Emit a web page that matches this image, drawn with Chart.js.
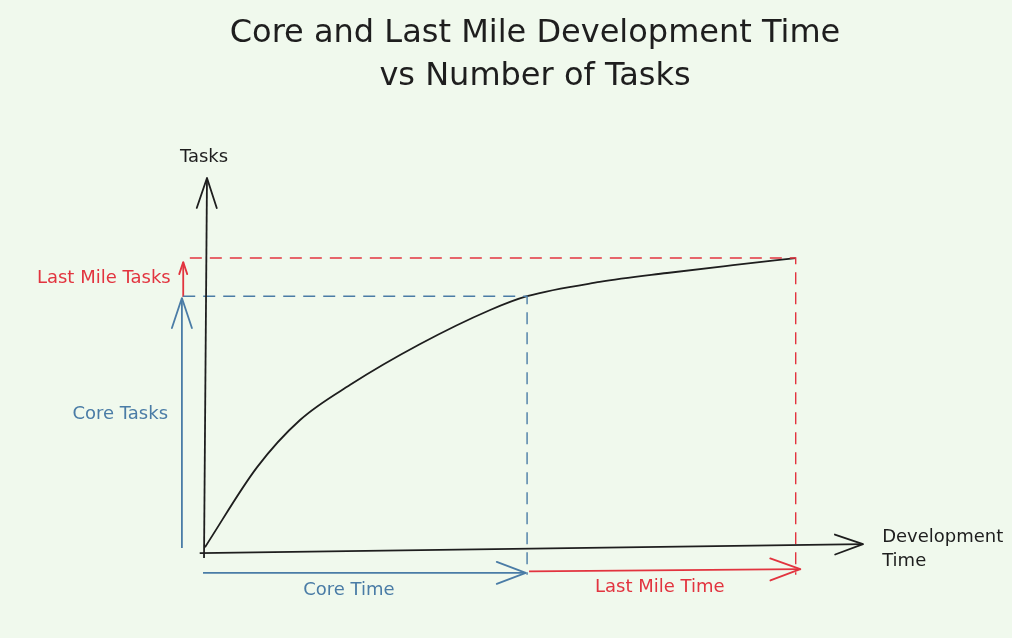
<!DOCTYPE html>
<html>
<head>
<meta charset="utf-8">
<script src="https://cdn.jsdelivr.net/npm/chart.js@4"></script>
<style>
  html, body { margin: 0; padding: 0; background: #f0f9ed; }
  #wrap { width: 1012px; height: 638px; position: relative; }
</style>
</head>
<body>
<div id="wrap"><canvas id="c"></canvas></div>
<script>
// ---- data ----
const titleLines = ['Core and Last Mile Development Time', 'vs Number of Tasks'];
const timeValues = [0, 7.9, 14.4, 22.0, 32.6, 43.2, 48.8, 59.8, 70.0, 80.0, 89.5];
const taskValues = [1.3, 22.7, 35.3, 44.7, 55.6, 64.7, 68.4, 72.2, 74.6, 76.7, 78.6];
const coreTime = 48.8;
const lastMileTime = 89.5;
const coreTasks = 68.4;
const totalTasks = 78.6;
const axisLabels = ['Tasks', 'Development', 'Time'];
const annotationLabels = ['Core Tasks', 'Last Mile Tasks', 'Core Time', 'Last Mile Time'];

const BLUE = '#4a7ca6';
const RED = '#e2343f';
const INK = '#1e1e1e';
const FONT = "'DejaVu Sans', sans-serif";

const curve = timeValues.map((t, i) => ({ x: t, y: taskValues[i] }));

const datasets = [
  { // y axis
    data: [{x: -0.15, y: -1.6}, {x: 0.3, y: 100}],
    borderColor: INK, borderWidth: 1.8, arrowHead: {len: 30, half: 10}
  },
  { // x axis
    data: [{x: -0.8, y: -0.3}, {x: 99.7, y: 2.1}],
    borderColor: INK, borderWidth: 1.8, arrowHead: {len: 28, half: 10}
  },
  { // core guide
    data: [{x: -3.3, y: coreTasks}, {x: coreTime, y: coreTasks}, {x: coreTime, y: -6.1}],
    borderColor: BLUE, borderWidth: 1.4, borderDash: [12, 8]
  },
  { // last mile guide
    data: [{x: -2.3, y: totalTasks}, {x: lastMileTime, y: totalTasks}, {x: lastMileTime, y: -6.1}],
    borderColor: RED, borderWidth: 1.4, borderDash: [12, 8]
  },
  { // core tasks arrow
    data: [{x: -3.5, y: 1.1}, {x: -3.5, y: coreTasks - 0.5}],
    borderColor: BLUE, borderWidth: 1.8, arrowHead: {len: 30, half: 10}
  },
  { // last mile tasks arrow
    data: [{x: -3.3, y: coreTasks - 0.2}, {x: -3.3, y: totalTasks - 1.1}],
    borderColor: RED, borderWidth: 1.8, arrowHead: {len: 12, half: 4}
  },
  { // core time arrow
    data: [{x: -0.3, y: -5.6}, {x: coreTime - 0.2, y: -5.6}],
    borderColor: BLUE, borderWidth: 1.8, arrowHead: {len: 29, half: 11}
  },
  { // last mile time arrow
    data: [{x: coreTime + 0.3, y: -5.2}, {x: lastMileTime + 0.7, y: -4.6}],
    borderColor: RED, borderWidth: 1.8, arrowHead: {len: 30, half: 11}
  },
  { // main curve
    data: curve,
    borderColor: INK, borderWidth: 1.8, cubicInterpolationMode: 'monotone'
  }
].map(d => Object.assign({ pointRadius: 0, fill: false, clip: false, tension: 0 }, d));

const sketchPlugin = {
  id: 'sketch',
  beforeDraw(chart) {
    const ctx = chart.ctx;
    ctx.save();
    ctx.fillStyle = '#f0f9ed';
    ctx.fillRect(0, 0, chart.width, chart.height);
    ctx.restore();
  },
  afterDatasetsDraw(chart) {
    const ctx = chart.ctx;
    const xs = chart.scales.x, ys = chart.scales.y;
    const px = v => xs.getPixelForValue(v), py = v => ys.getPixelForValue(v);
    ctx.save();
    // arrowheads
    chart.data.datasets.forEach((ds, i) => {
      if (!ds.arrowHead) return;
      const pts = chart.getDatasetMeta(i).data;
      const a = pts[pts.length - 2], b = pts[pts.length - 1];
      const ang = Math.atan2(b.y - a.y, b.x - a.x);
      const L = ds.arrowHead.len, H = ds.arrowHead.half;
      ctx.strokeStyle = ds.borderColor;
      ctx.lineWidth = ds.borderWidth;
      ctx.lineCap = 'round';
      ctx.beginPath();
      [-1, 1].forEach(s => {
        const bx = b.x - L * Math.cos(ang) - s * H * Math.sin(ang);
        const by = b.y - L * Math.sin(ang) + s * H * Math.cos(ang);
        ctx.moveTo(bx, by);
        ctx.lineTo(b.x, b.y);
      });
      ctx.stroke();
    });
    // labels
    ctx.font = '18px ' + FONT;
    ctx.textBaseline = 'middle';
    ctx.fillStyle = INK;
    ctx.textAlign = 'center';
    ctx.fillText(axisLabels[0], px(-0.15), py(105.6));
    ctx.textAlign = 'left';
    ctx.fillText(axisLabels[1], px(102.6), py(4.0));
    ctx.fillText(axisLabels[2], px(102.6), py(-2.4));
    ctx.fillStyle = BLUE;
    ctx.textAlign = 'right';
    ctx.fillText(annotationLabels[0], px(-5.6), py(36.9));
    ctx.fillStyle = RED;
    ctx.fillText(annotationLabels[1], px(-5.2), py(73.3));
    ctx.textAlign = 'center';
    ctx.fillStyle = BLUE;
    ctx.fillText(annotationLabels[2], px(21.8), py(-10.2));
    ctx.fillStyle = RED;
    ctx.fillText(annotationLabels[3], px(68.9), py(-9.4));
    ctx.restore();
  }
};

new Chart(document.getElementById('c'), {
  type: 'line',
  data: { datasets },
  options: {
    responsive: true,
    maintainAspectRatio: false,
    animation: false,
    events: [],
    layout: { padding: { left: 205, right: 147, top: 2, bottom: 86 } },
    scales: {
      x: { type: 'linear', min: 0, max: 100, display: false },
      y: { type: 'linear', min: 0, max: 100, display: false }
    },
    plugins: {
      legend: { display: false },
      tooltip: { enabled: false },
      title: {
        display: true,
        text: titleLines,
        color: INK,
        font: { family: FONT, size: 32, weight: 'normal', lineHeight: 1.35 },
        padding: { top: 10, bottom: 79.6 }
      }
    }
  },
  plugins: [sketchPlugin]
});
</script>
</body>
</html>
